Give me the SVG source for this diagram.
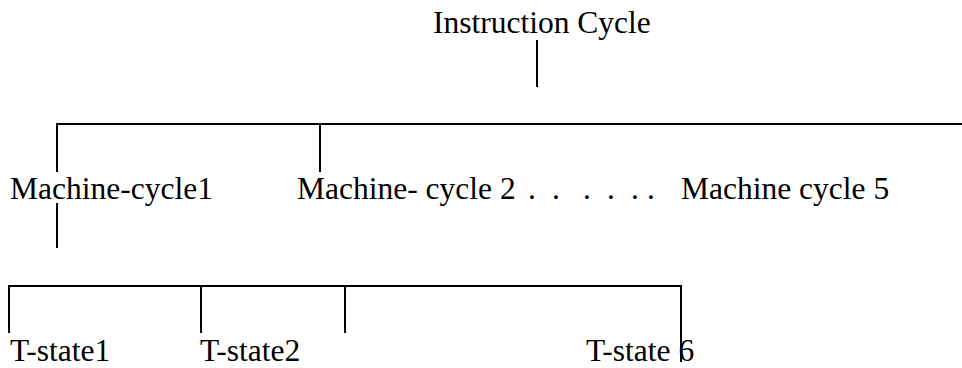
<svg xmlns="http://www.w3.org/2000/svg" width="962" height="368" viewBox="0 0 962 368">
<style>
  text { font-family: "Liberation Serif", "Times New Roman", serif; font-size: 31.5px; fill: #000; }
  .ln { stroke: #000; stroke-width: 2; fill: none; }
</style>
<rect width="962" height="368" fill="#fff"/>
<g id="connectors">
  <line class="ln" x1="537" y1="40" x2="537" y2="87"/>
  <line class="ln" x1="56" y1="124" x2="962" y2="124"/>
  <line class="ln" x1="57" y1="123" x2="57" y2="172"/>
  <line class="ln" x1="320" y1="123" x2="320" y2="172"/>
  <line class="ln" x1="57" y1="203" x2="57" y2="248"/>
  <line class="ln" x1="8" y1="286" x2="682" y2="286"/>
  <line class="ln" x1="9" y1="285" x2="9" y2="333"/>
  <line class="ln" x1="201" y1="285" x2="201" y2="333"/>
  <line class="ln" x1="345" y1="285" x2="345" y2="333"/>
  <line class="ln" x1="681" y1="285" x2="681" y2="362"/>
</g>
<g id="instruction-cycle"><text x="433" y="33">Instruction Cycle</text></g>
<g id="machine-cycle-1"><text x="10" y="199">Machine-cycle1</text></g>
<g id="machine-cycle-2"><text x="297" y="199">Machine- cycle 2<tspan x="528">.</tspan><tspan x="552">.</tspan><tspan x="583">.</tspan><tspan x="607">.</tspan><tspan x="631">.</tspan><tspan x="647">.</tspan></text></g>
<g id="machine-cycle-5"><text x="681" y="199">Machine cycle 5</text></g>
<g id="t-state-1"><text x="10" y="361">T-state1</text></g>
<g id="t-state-2"><text x="200" y="361">T-state2</text></g>
<g id="t-state-6"><text x="586" y="361">T-state 6</text></g>
</svg>
